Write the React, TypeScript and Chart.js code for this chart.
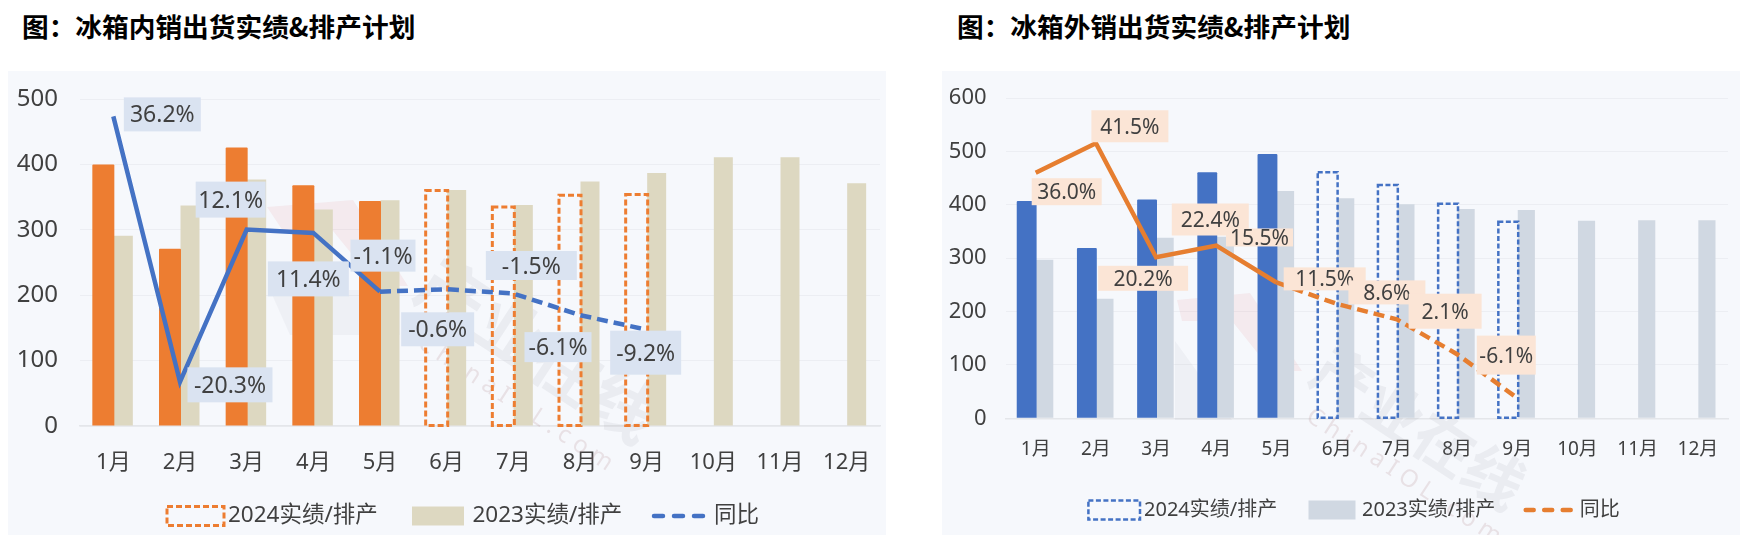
import React, { useEffect, useRef } from 'react';
import Chart from 'chart.js/auto';

const months = ['1月', '2月', '3月', '4月', '5月', '6月', '7月', '8月', '9月', '10月', '11月', '12月'];

// 内销
const domestic2024 = [400, 271, 426, 368, 344, 360, 335, 353, 354];
const domestic2023 = [291, 337, 377, 331, 345, 361, 338, 374, 387, 411, 411, 371];
const domesticYoy = [36.2, -20.3, 12.1, 11.4, -1.1, -0.6, -1.5, -6.1, -9.2];
// label box placement around each line point: dx, dy, w, h
const domesticBoxes = [
  [49, -2, 77, 34], [50, 3, 85, 35], [-16, -30, 70, 36], [-5, 46, 81, 35], [3, -36, 65, 32],
  [-9, 40, 73, 34], [18, -28, 91, 29], [-22, 32, 67, 30], [-1, 23, 71, 44],
];

// 外销
const export2024 = [407, 319, 410, 461, 495, 461, 437, 402, 368];
const export2023 = [297, 224, 338, 340, 426, 412, 401, 392, 390, 370, 371, 371];
const exportYoy = [36.0, 41.5, 20.2, 22.4, 15.5, 11.5, 8.6, 2.1, -6.1];
const exportBoxes = [
  [31, 19, 70, 27], [34, -17, 77, 32], [-13, 21, 90, 25], [-6, -26, 77, 32], [-17, -45, 67, 18],
  [-12, -25, 82, 23], [-10, -27, 77, 24], [-12, -43, 73, 35], [-11, -43, 59, 39],
];

const actualMonths = 5; // after 5月 the 2024 bars are plan, drawn dashed
const FONT = '"Noto Sans", "Noto Sans CJK SC", sans-serif';
const TEXT = '#404040';

const fillShape = (ctx: any, shape: number[][], color: string) => {
  ctx.fillStyle = color;
  ctx.beginPath();
  shape.forEach(([x, y], i) => (i ? ctx.lineTo(x, y) : ctx.moveTo(x, y)));
  ctx.closePath();
  ctx.fill();
};

const makePlugins = (p: any) => [
  {
    id: 'watermark',
    beforeDatasetsDraw(chart: any) {
      const ctx = chart.ctx;
      ctx.save();
      fillShape(ctx, p.markRed, 'rgba(230,120,120,0.10)');
      fillShape(ctx, p.markGrey, 'rgba(120,125,135,0.06)');
      ctx.translate(p.stamp[0], p.stamp[1]);
      ctx.rotate(0.58);
      ctx.textAlign = 'center';
      ctx.textBaseline = 'middle';
      ctx.fillStyle = 'rgba(120,125,135,0.09)';
      ctx.font = `700 ${p.stampSize}px ${FONT}`;
      ctx.fillText('产业在线', 0, 0);
      ctx.fillStyle = 'rgba(170,120,125,0.18)';
      ctx.font = `400 24px ${FONT}`;
      ctx.fillText('C h i n a I O L . c o m', p.stampSub[0], p.stampSub[1]);
      ctx.restore();
    },
  },
  {
    id: 'dashedBars',
    afterDatasetDraw(chart: any, args: any) {
      if (args.index !== 1) return;
      const ctx = chart.ctx;
      ctx.save();
      ctx.strokeStyle = p.barColor;
      ctx.lineWidth = p.dashWidth;
      ctx.setLineDash(p.barDash);
      args.meta.data.forEach((bar: any, i: number) => {
        if (i < actualMonths) return;
        const { x, y, base, width } = bar.getProps(['x', 'y', 'base', 'width'], true);
        ctx.strokeRect(x - width / 2, y, width, base - y);
      });
      ctx.restore();
    },
  },
  {
    id: 'yoyBoxes',
    afterDatasetsDraw(chart: any) {
      const ctx = chart.ctx;
      const points = chart.getDatasetMeta(0).data;
      ctx.save();
      ctx.textAlign = 'center';
      ctx.textBaseline = 'middle';
      ctx.font = `400 ${p.labelSize}px ${FONT}`;
      p.yoy.forEach((v: number, i: number) => {
        const [dx, dy, w, h] = p.boxes[i];
        const cx = points[i].x + dx;
        const cy = points[i].y + dy;
        ctx.fillStyle = p.boxColor;
        ctx.fillRect(cx - w / 2, cy - h / 2, w, h);
        ctx.fillStyle = TEXT;
        ctx.fillText(`${v.toFixed(1)}%`, cx, cy + 1.5);
      });
      ctx.restore();
    },
  },
  {
    id: 'legendRow',
    afterDraw(chart: any) {
      const ctx = chart.ctx;
      const { y, h, x1, w1, t1, x2, w2, t2, x3, w3, t3 } = p.legend;
      ctx.save();
      ctx.strokeStyle = p.barColor;
      ctx.lineWidth = p.dashWidth;
      ctx.setLineDash(p.barDash);
      ctx.strokeRect(x1, y - h / 2, w1, h);
      ctx.setLineDash([]);
      ctx.fillStyle = p.otherColor;
      ctx.fillRect(x2, y - h / 2, w2, h);
      ctx.strokeStyle = p.lineColor;
      ctx.lineWidth = 4.5;
      ctx.lineCap = 'round';
      ctx.setLineDash(p.legendDash);
      ctx.beginPath();
      ctx.moveTo(x3 + 2, y);
      ctx.lineTo(x3 + w3, y);
      ctx.stroke();
      ctx.setLineDash([]);
      ctx.fillStyle = TEXT;
      ctx.textBaseline = 'middle';
      ctx.font = `400 ${p.legendSize}px ${FONT}`;
      ctx.fillText('2024实绩/排产', t1, y);
      ctx.fillText('2023实绩/排产', t2, y);
      ctx.fillText('同比', t3, y);
      ctx.restore();
    },
  },
];

const Panel: React.FC<{ cfg: any }> = ({ cfg }) => {
  const ref = useRef<HTMLCanvasElement | null>(null);

  useEffect(() => {
    if (!ref.current) return;
    const chart = new Chart(ref.current, {
      type: 'bar',
      data: {
        labels: months,
        datasets: [
          {
            type: 'line',
            label: '同比',
            data: cfg.yoy,
            yAxisID: 'y2',
            order: 0,
            borderColor: cfg.lineColor,
            borderWidth: 4.5,
            pointRadius: 0,
            tension: 0,
            segment: {
              borderDash: (c: any) => (c.p0DataIndex >= actualMonths - 1 ? [11, 6] : undefined),
            },
          },
          {
            label: '2024实绩/排产',
            data: cfg.current,
            order: 1,
            barPercentage: 1.1,
            backgroundColor: (c: any) => (c.dataIndex < actualMonths ? cfg.barColor : 'transparent'),
            borderRadius: 1,
          },
          {
            label: '2023实绩/排产',
            data: cfg.previous,
            order: 2,
            barPercentage: 0.95,
            backgroundColor: cfg.otherColor,
          },
        ] as any,
      },
      options: {
        responsive: false,
        animation: false,
        layout: { padding: { top: cfg.top, right: cfg.right, left: 0, bottom: 0 } },
        datasets: { bar: { categoryPercentage: 0.6 } },
        plugins: { legend: { display: false }, tooltip: { enabled: false } },
        scales: {
          x: {
            grid: { display: false, drawTicks: false },
            border: { color: '#E4E6EA', width: 1.5 },
            ticks: { color: TEXT, font: { size: cfg.xSize, family: FONT }, padding: cfg.xPad, maxRotation: 0, autoSkip: false },
            afterFit: (s: any) => {
              s.height = cfg.below;
              s.paddingLeft = 0;
              s.paddingRight = 0;
            },
          },
          y: {
            min: 0,
            max: cfg.max,
            grid: { color: '#ECEEF3', drawTicks: false },
            border: { display: false },
            ticks: { stepSize: 100, color: TEXT, font: { size: cfg.ySize, family: FONT }, padding: cfg.yPad },
            afterFit: (s: any) => {
              s.width = cfg.axisWidth;
              s.paddingTop = 0;
              s.paddingBottom = 0;
            },
          },
          y2: { display: false, min: cfg.yoyMin, max: cfg.yoyMax },
        },
      },
      plugins: makePlugins(cfg),
    } as any);
    return () => chart.destroy();
  }, [cfg]);

  return (
    <div style={{ position: 'absolute', left: cfg.left, top: 71, width: cfg.width, height: 464, background: '#F6F8FC' }}>
      <canvas ref={ref} width={cfg.width} height={464} style={{ display: 'block' }} />
    </div>
  );
};

const domesticCfg = {
  left: 8, width: 878, top: 28, right: 6, below: 109, axisWidth: 72, max: 500,
  current: domestic2024, previous: domestic2023, yoy: domesticYoy, boxes: domesticBoxes,
  yoyMin: -29.7, yoyMax: 39.9,
  barColor: '#ED7D31', otherColor: '#DDD8C1', lineColor: '#4472C4', boxColor: '#DAE3F1',
  dashWidth: 3, barDash: [6, 3],
  xSize: 22, ySize: 24, xPad: 24, yPad: 22, labelSize: 23, legendSize: 22.5,
  markRed: [[259, 136], [345, 129], [400, 215], [370, 215], [325, 160], [275, 160]],
  markGrey: [[262, 219], [392, 219], [392, 264], [282, 264]],
  stamp: [527, 284], stampSize: 68, stampSub: [10, 51],
  legend: { y: 445, h: 19, x1: 159, w1: 57, t1: 220, x2: 404, w2: 52, t2: 464.5, x3: 644, w3: 52, t3: 706 },
  legendDash: [9, 11],
};

const exportCfg = {
  left: 942, width: 798, top: 27, right: 12, below: 116.7, axisWidth: 63.6, max: 600,
  current: export2024, previous: export2023, yoy: exportYoy, boxes: exportBoxes,
  yoyMin: -9.87, yoyMax: 49.95,
  barColor: '#4472C4', otherColor: '#D0D8E2', lineColor: '#E67E30', boxColor: '#FBE5D6',
  dashWidth: 2.5, barDash: [5, 2.5],
  xSize: 19, ySize: 22, xPad: 20, yPad: 19, labelSize: 21, legendSize: 20,
  markRed: [[235, 229], [308, 222], [360, 300], [330, 300], [290, 250], [240, 250]],
  markGrey: [[233, 270], [290, 349], [233, 349]],
  stamp: [474, 361], stampSize: 60, stampSub: [14, 44],
  legend: { y: 439, h: 19, x1: 146.4, w1: 51.6, t1: 202, x2: 366.5, w2: 47, t2: 420, x3: 581.7, w3: 47, t3: 637.7 },
  legendDash: [8, 10.5],
};

const titleStyle: React.CSSProperties = {
  position: 'absolute',
  top: 8,
  fontFamily: '"Noto Sans CJK SC", sans-serif',
  fontWeight: 700,
  fontSize: 26.7,
  lineHeight: '36px',
  color: '#000',
  whiteSpace: 'nowrap',
};

export default function App() {
  return (
    <div style={{ position: 'fixed', left: 0, top: 0, width: 1746, height: 540, background: '#fff', overflow: 'hidden' }}>
      <div style={{ ...titleStyle, left: 22 }}>图：冰箱内销出货实绩&amp;排产计划</div>
      <div style={{ ...titleStyle, left: 957 }}>图：冰箱外销出货实绩&amp;排产计划</div>
      <Panel cfg={domesticCfg} />
      <Panel cfg={exportCfg} />
    </div>
  );
}
